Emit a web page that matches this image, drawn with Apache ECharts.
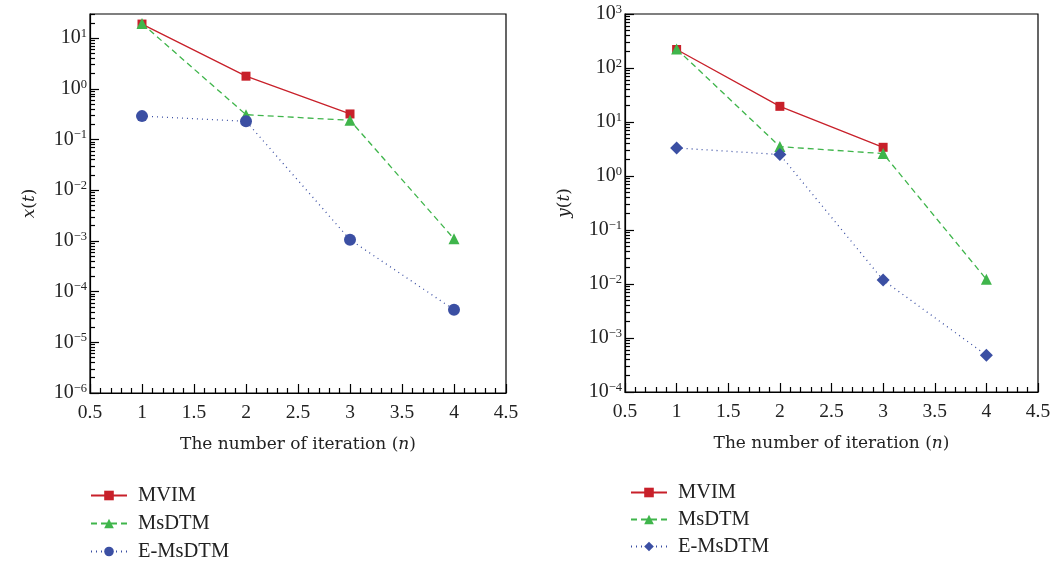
<!DOCTYPE html>
<html>
<head>
<meta charset="utf-8">
<script src="https://cdn.jsdelivr.net/npm/echarts@6/dist/echarts.min.js"></script>
<style>
  html, body { margin: 0; padding: 0; background: #fff; }
  #main { width: 1056px; height: 561px; }
</style>
</head>
<body>
<div id="main"></div>
<script>
// iteration number
const nIter = [1, 2, 3, 4]

// x(t) errors
const xMVIM = [19, 1.78, 0.32]
const xMsDTM = [19.5, 0.31, 0.24, 0.0011]
const xEMsDTM = [0.29, 0.23, 0.00106, 0.000044]

// y(t) errors
const yMVIM = [220, 19.5, 3.4]
const yMsDTM = [225, 3.5, 2.6, 0.0122]
const yEMsDTM = [3.3, 2.5, 0.0118, 0.00048]

// tick values
const xTicks = [0.5, 1, 1.5, 2, 2.5, 3, 3.5, 4, 4.5]
const xMajor = [1e-6, 1e-5, 1e-4, 1e-3, 1e-2, 1e-1, 1, 10]
const yMajor = [1e-4, 1e-3, 1e-2, 1e-1, 1, 10, 100, 1000]

const FONT = 'Liberation Serif'
const NAME_FONT = 'DejaVu Serif'
const RED = '#c8202a', GREEN = '#3fb54b', BLUE = '#3b4fa3'

function minorTicks(lo, hi) {
  const out = []
  for (let e = lo; e < hi; e++) {
    for (let k = 2; k <= 9; k++) out.push(+(k * Math.pow(10, e)).toPrecision(3))
  }
  return out
}

function pairs(vals) {
  return vals.map((v, i) => [nIter[i], v])
}

function supLabel(v) {
  const e = Math.round(Math.log10(v))
  return '{b|10}{sup|' + (e < 0 ? '\u2212' + (-e) : e) + '}'
}

const labelRich = {
  b: { fontFamily: FONT, fontSize: 20, lineHeight: 22, color: '#222' },
  sup: { fontFamily: FONT, fontSize: 12.5, lineHeight: 12, verticalAlign: 'top', color: '#222' }
}

const nameStyle = {
  fontFamily: NAME_FONT, fontSize: 17, color: '#222',
  rich: { i: { fontFamily: NAME_FONT, fontSize: 17, fontStyle: 'italic', color: '#222' } }
}

function xAxisOf(gridIndex) {
  return {
    type: 'value', gridIndex: gridIndex, min: 0.5, max: 4.5, interval: 0.5,
    name: 'The number of iteration ({i|n})',
    nameLocation: 'middle', nameGap: 43,
    nameTextStyle: nameStyle,
    axisLine: { lineStyle: { color: '#000', width: 1.2 } },
    axisTick: { inside: true, length: 9, lineStyle: { color: '#000', width: 1.2 } },
    minorTick: { show: true, splitNumber: 5, length: 5, lineStyle: { color: '#000', width: 1.2 } },
    axisLabel: { fontFamily: FONT, fontSize: 19.5, color: '#222', margin: 10,
      customValues: xTicks, formatter: v => String(v) },
    splitLine: { show: false },
    minorSplitLine: { show: false }
  }
}

function yAxesOf(gridIndex, min, max, major, lo, hi, nameRich) {
  return [{
    type: 'log', gridIndex: gridIndex, min: min, max: max, logBase: 10,
    name: nameRich, nameLocation: 'middle', nameRotate: 90, nameGap: 52,
    nameTextStyle: nameStyle,
    axisLine: { lineStyle: { color: '#000', width: 1.2 } },
    axisTick: { inside: true, length: 9, customValues: major, lineStyle: { color: '#000', width: 1.2 } },
    axisLabel: { customValues: major, formatter: supLabel, rich: labelRich, margin: 3 },
    splitLine: { show: false }
  }, {
    type: 'log', gridIndex: gridIndex, min: min, max: max, logBase: 10, position: 'left',
    axisLine: { show: false },
    axisTick: { inside: true, length: 5, customValues: minorTicks(lo, hi), lineStyle: { color: '#000', width: 1.2 } },
    axisLabel: { show: false },
    splitLine: { show: false }
  }]
}

function lineSeries(name, data, color, type, symbol, size, xi, yi) {
  return {
    name: name, type: 'line', xAxisIndex: xi, yAxisIndex: yi,
    data: pairs(data), symbol: symbol, symbolSize: size,
    itemStyle: { color: color },
    lineStyle: { color: color, width: 1.3, type: type },
    z: 3
  }
}

const legendText = { fontFamily: FONT, fontSize: 20.5, lineHeight: 20, color: '#222', padding: [0, 0, 0, 6] }

let chart = echarts.init(document.getElementById('main'))
let option = {
  animation: false,
  backgroundColor: '#fff',
  grid: [
    { left: 90, top: 14, width: 416, height: 379, show: true, borderColor: '#000', borderWidth: 1.2 },
    { left: 625, top: 14, width: 413, height: 378, show: true, borderColor: '#000', borderWidth: 1.2 }
  ],
  xAxis: [xAxisOf(0), xAxisOf(1)],
  yAxis: []
    .concat(yAxesOf(0, 1e-6, 30, xMajor, -6, 2, '{i|x}({i|t})'))
    .concat(yAxesOf(1, 1e-4, 1000, yMajor, -4, 3, '{i|y}({i|t})')),
  legend: [
    { orient: 'vertical', left: 90, top: 485, height: 100, padding: 0, itemWidth: 36, itemHeight: 12, itemGap: 7,
      textStyle: legendText, data: ['MVIM', 'MsDTM', 'E-MsDTM'] },
    { orient: 'vertical', left: 630, top: 482, height: 100, padding: 0, itemWidth: 36, itemHeight: 12, itemGap: 6,
      textStyle: legendText, data: ['MVIM_y', 'MsDTM_y', 'E-MsDTM_y'],
      formatter: n => n.replace('_y', '') }
  ],
  series: [
    lineSeries('MVIM', xMVIM, RED, 'solid', 'rect', 9, 0, 0),
    lineSeries('MsDTM', xMsDTM, GREEN, [6, 4], 'triangle', 11, 0, 0),
    lineSeries('E-MsDTM', xEMsDTM, BLUE, [1, 4], 'circle', 12, 0, 0),
    lineSeries('MVIM_y', yMVIM, RED, 'solid', 'rect', 9, 1, 2),
    lineSeries('MsDTM_y', yMsDTM, GREEN, [6, 4], 'triangle', 11, 1, 2),
    lineSeries('E-MsDTM_y', yEMsDTM, BLUE, [1, 4], 'diamond', 13, 1, 2)
  ]
}
chart.setOption(option)
</script>
</body>
</html>
